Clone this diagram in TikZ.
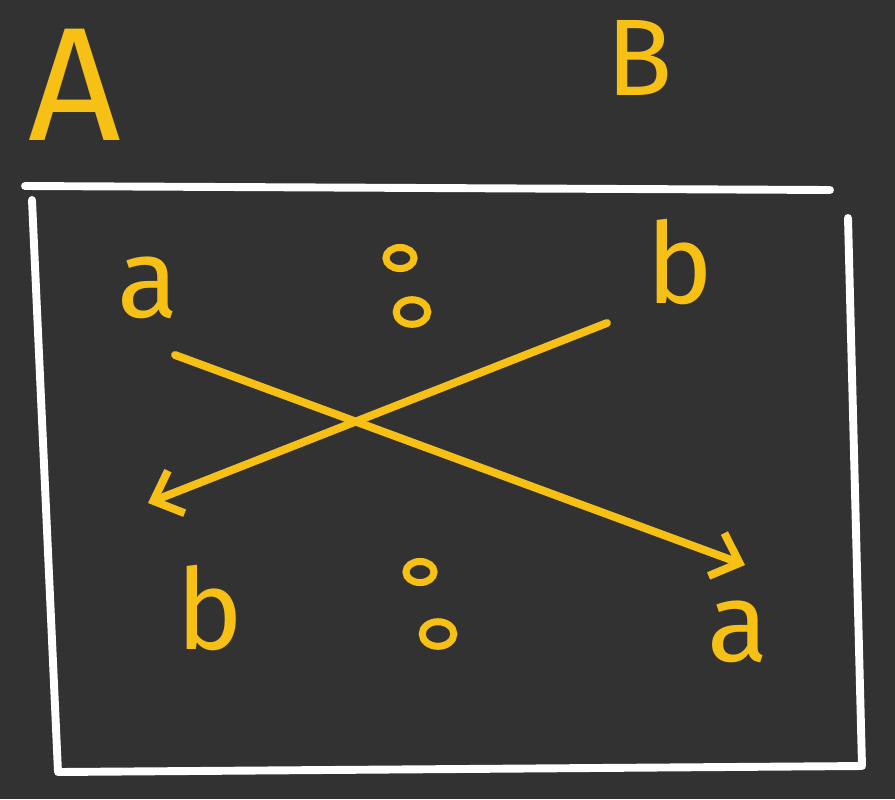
\documentclass[tikz,border=0pt]{standalone}
\usepackage{fontspec}
\setmainfont{Fira Sans}
\usetikzlibrary{arrows.meta}
\definecolor{bg}{RGB}{50,50,50}
\definecolor{ylw}{RGB}{246,192,20}
\tikzset{
  frameline/.style={draw=white, line width=4.5pt, line cap=round, line join=round},
  yline/.style={draw=ylw, line width=4.5pt, line cap=round, -{Straight Barb[length=14pt,width=26pt,line width=4.5pt]}},
  letter/.style={text=ylw, inner sep=0pt, font=\fontsize{64}{70}\selectfont},
  dotring/.style={draw=ylw, line width=4pt},
}
\begin{document}
\begin{tikzpicture}[x=0.02cm,y=-0.02cm]
\fill[bg] (0,0) rectangle (895,799);
\useasboundingbox (0,0) rectangle (895,799);
% titles
\node[letter, font=\fontsize{92}{100}\selectfont] (A) at (75,85) {A};
\node[letter, font=\fontsize{62}{70}\selectfont] (B) at (640,58) {B};
% frame
\draw[frameline] (25,186) -- (830,190);
\draw[frameline] (32,200) -- (58,772) -- (862,766) -- (848,218);
% letters
\node[letter] (a1) at (148,288) {a};
\node[letter] (b1) at (680,262) {b};
\node[letter] (b2) at (210,608) {b};
\node[letter] (a2) at (738,632) {a};
% colons
\draw[dotring] (400,258) ellipse (8pt and 6pt);
\draw[dotring] (412,312) ellipse (9pt and 7pt);
\draw[dotring] (420,572) ellipse (8pt and 6pt);
\draw[dotring] (438,634) ellipse (9pt and 7pt);
% arrows
\coordinate (s1) at (175,355);
\coordinate (e1) at (745,565);
\coordinate (s2) at (607,323);
\coordinate (e2) at (148,503);
\draw[yline] (s1) -- (e1);
\draw[yline] (s2) -- (e2);
\end{tikzpicture}
\end{document}
